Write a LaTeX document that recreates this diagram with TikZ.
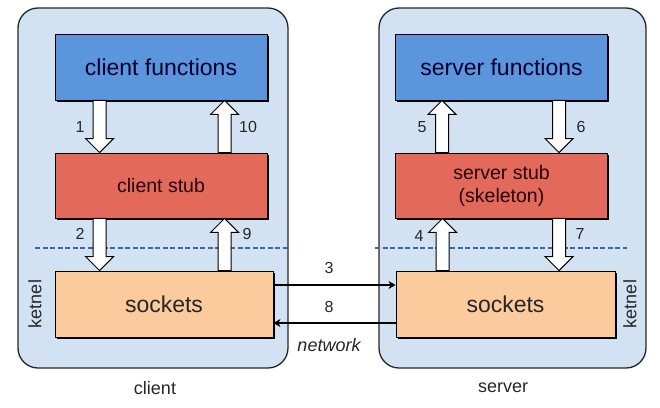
\documentclass[tikz,border=0pt]{standalone}
\usepackage{fontspec}
\setmainfont{Liberation Sans}
\usetikzlibrary{calc,shadows,arrows.meta}

\definecolor{outerblue}{HTML}{D2E2F3}
\definecolor{funcblue}{HTML}{5B95DB}
\definecolor{stubred}{HTML}{E3695A}
\definecolor{sockpeach}{HTML}{FCCB9D}
\definecolor{dashblue}{HTML}{3F6794}

\tikzset{
  machine/.style={draw=black!85, fill=outerblue, line width=1.3pt, rounded corners=20pt, inner sep=0pt},
  layer/.style={draw=black, line width=0.9pt, inner sep=0pt,
    drop shadow={shadow xshift=1.6pt, shadow yshift=-1.6pt, fill=black, opacity=1}},
  funcbox/.style={layer, fill=funcblue, minimum width=212pt, minimum height=66pt,
    font=\fontsize{23}{26}\selectfont, text=black!80!blue},
  stubbox/.style={layer, fill=stubred, minimum width=212pt, minimum height=65pt,
    font=\fontsize{19.5}{23}\selectfont, align=center, text=black!85!red},
  sockbox/.style={layer, fill=sockpeach, minimum height=66pt,
    font=\fontsize{23}{26}\selectfont, text=black!85},
  hollow/.style={draw=black, fill=white, line width=1pt, line join=miter},
  num/.style={font=\fontsize{16}{18}\selectfont, text=black!85},
  side/.style={font=\fontsize{18}{20}\selectfont, text=black!85},
  kernelline/.style={dashblue, line width=1.3pt, dash pattern=on 5pt off 2.5pt},
  net/.style={draw=black, line width=1.1pt, -{Stealth[length=7pt,width=8pt,inset=2pt]}}
}

% hollow block arrow between two points (vertical)
\newcommand\hollowarrow[2]{%
  \draw[hollow] let \p1=(#1), \p2=(#2), \n1={ifthenelse(\y2>\y1,1,-1)} in
    (\x1-6.5pt,\y1) -- (\x1-6.5pt,\y2-\n1*14pt) -- (\x1-14pt,\y2-\n1*14pt)
    -- (\x1,\y2) -- (\x1+14pt,\y2-\n1*14pt) -- (\x1+6.5pt,\y2-\n1*14pt)
    -- (\x1+6.5pt,\y1) -- cycle;}

\begin{document}
\begin{tikzpicture}[x=1pt,y=-1pt]
  \useasboundingbox (0,0) rectangle (660,407);

  % the two machines
  \node[machine, minimum width=270pt, minimum height=360pt] (client) at (153,188) {};
  \node[machine, minimum width=267pt, minimum height=360pt] (server) at (512.5,188) {};

  % kernel borders
  \draw[kernelline] (35,248) -- (288,248);
  \draw[kernelline] (375,248) -- (627,248);

  % client side
  \node[funcbox] (cf) at (161,67) {client functions};
  \node[stubbox] (cs) at (161,185.5) {client stub};
  \node[sockbox, minimum width=218pt] (ck) at (164,304) {sockets};

  % server side
  \node[funcbox] (sf) at (501.5,67) {server functions};
  \node[stubbox] (ss) at (501.5,185.5) {server stub\\(skeleton)};
  \node[sockbox, minimum width=219pt] (sk) at (505.5,304) {sockets};

  % calls on the client
  \hollowarrow{$(cf.south west)+(45,0)$}{$(cs.north west)+(45,0)$}
  \hollowarrow{$(cs.north west)+(170,0)$}{$(cf.south west)+(170,0)$}
  \hollowarrow{$(cs.south west)+(45,0)$}{$(ck.north west)+(45,0)$}
  \hollowarrow{$(ck.north west)+(170,0)$}{$(cs.south west)+(170,0)$}

  % calls on the server
  \hollowarrow{$(ss.north west)+(47,0)$}{$(sf.south west)+(47,0)$}
  \hollowarrow{$(sf.south west)+(164,0)$}{$(ss.north west)+(164,0)$}
  \hollowarrow{$(sk.north west)+(47,0)$}{$(ss.south west)+(47,0)$}
  \hollowarrow{$(ss.south west)+(164,0)$}{$(sk.north west)+(164,0)$}

  \node[num] (n1) at (80,127) {1};
  \node[num] (n10) at (248,127) {10};
  \node[num] (n2) at (80,234) {2};
  \node[num] (n9) at (247,234) {9};
  \node[num] (n5) at (422,127) {5};
  \node[num] (n6) at (581,127) {6};
  \node[num] (n4) at (419,236) {4};
  \node[num] (n7) at (580,234) {7};

  % network
  \draw[net] ([yshift=19pt]ck.east) -- ([yshift=19pt]sk.west);
  \draw[net] ([yshift=-19pt]sk.west) -- ([yshift=-19pt]ck.east);
  \node[num] (n3) at (329,268) {3};
  \node[num] (n8) at (329,307) {8};
  \node[side, font=\fontsize{18}{20}\selectfont\itshape] (netw) at (329,345) {network};

  % labels
  \node[side, rotate=90] (kl) at (35,304) {ketnel};
  \node[side, rotate=90] (kr) at (630,304) {ketnel};
  \node[side] (cl) at (155,388) {client};
  \node[side] (sl) at (503,388) {server};
\end{tikzpicture}
\end{document}
